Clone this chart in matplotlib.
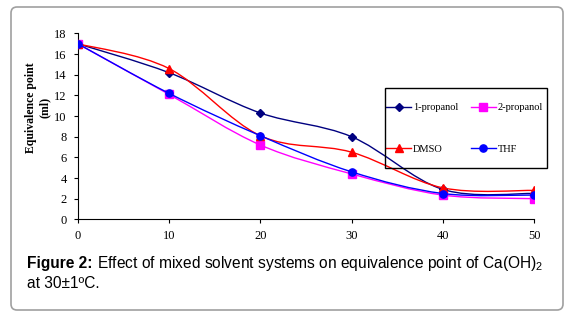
import numpy as np
import matplotlib
matplotlib.use('Agg')
import matplotlib.pyplot as plt
from matplotlib.path import Path
from matplotlib.patches import PathPatch, Rectangle, FancyBboxPatch
from matplotlib.lines import Line2D

# data
solvent_pct = [0, 10, 20, 30, 40, 50]
propanol_1 = [17.0, 14.2, 10.3, 8.0, 2.9, 2.5]
propanol_2 = [17.0, 12.1, 7.2, 4.4, 2.35, 2.0]
dmso = [17.0, 14.6, 8.1, 6.5, 3.05, 2.8]
thf = [17.0, 12.2, 8.1, 4.6, 2.5, 2.35]

series = [
    ('1-propanol', propanol_1, '#000080', 'D', 3.8),
    ('2-propanol', propanol_2, '#ff00ff', 's', 5.2),
    ('DMSO', dmso, '#ff0000', '^', 5.2),
    ('THF', thf, '#0000ff', 'o', 5.2),
]

plt.rcParams['font.family'] = 'Liberation Serif'
plt.rcParams['mathtext.default'] = 'regular'


def smooth_path(xs, ys):
    # Excel-style smoothed line: Catmull-Rom spline as cubic Bezier segments
    p = np.column_stack([xs, ys]).astype(float)
    ext = np.vstack([p[0], p, p[-1]])
    verts = [p[0]]
    codes = [Path.MOVETO]
    for i in range(len(p) - 1):
        p0, p1, p2, p3 = ext[i], ext[i + 1], ext[i + 2], ext[i + 3]
        verts += [p1 + (p2 - p0) / 6, p2 - (p3 - p1) / 6, p2]
        codes += [Path.CURVE4] * 3
    return Path(verts, codes)


fig = plt.figure(figsize=(5.73, 3.12), dpi=100)
ax = fig.add_axes([0.1356, 0.297, 0.932 - 0.1356, 0.893 - 0.297])

handles = []
for i, (name, vals, col, mk, ms) in enumerate(series):
    ax.add_patch(PathPatch(smooth_path(solvent_pct, vals), fill=False,
                           edgecolor=col, lw=1.0, zorder=2 + i))
    ax.plot(solvent_pct, vals, ls='none', marker=mk, ms=ms, color=col,
            zorder=2 + i)
    handles.append(Line2D([], [], color=col, lw=1.0, marker=mk, ms=ms))

ax.set_xlim(0, 50)
ax.set_ylim(0, 18)
ax.set_xticks(range(0, 51, 10))
ax.set_yticks(range(0, 19, 2))
ax.tick_params(labelsize=9, length=3, width=0.8, direction='out', pad=5)
for s in ['top', 'right']:
    ax.spines[s].set_visible(False)
for s in ['left', 'bottom']:
    ax.spines[s].set_linewidth(0.8)

fig.text(38 / 573, 0.655, 'Equivalence point\n(ml)', rotation=90,
         ha='center', va='center', multialignment='center',
         fontsize=8.5, fontweight='bold')

# legend box, filled row by row like the original
fig.patches.append(Rectangle((385 / 573, 1 - 168 / 312), 162 / 573, 80 / 312,
                             transform=fig.transFigure, fill=False,
                             edgecolor='black', lw=1.0, zorder=10))
order = [0, 2, 1, 3]
fig.legend([handles[k] for k in order], [series[k][0] for k in order],
           ncol=2, frameon=False,
           loc='upper left', bbox_to_anchor=(386 / 573, 1 - 103 / 312),
           fontsize=7.5, handlelength=2.4, handletextpad=0.2,
           columnspacing=1.2, labelspacing=3.1, borderpad=0,
           borderaxespad=0)

# caption: bold label, then the rest of line one placed after it
t1 = fig.text(27 / 573, 1 - 268 / 312, 'Figure 2:', family='Liberation Sans',
              fontsize=11.2, fontweight='bold', va='baseline', ha='left')
fig.canvas.draw()
bb = t1.get_window_extent()
fig.text(bb.x1 / fig.bbox.width, 1 - 268 / 312,
         ' Effect of mixed solvent systems on equivalence point of '
         'Ca(OH)$_2$', family='Liberation Sans', fontsize=11.2,
         va='baseline', ha='left')
fig.text(27 / 573, 1 - 288 / 312, 'at 30\u00b11\u00baC.',
         family='Liberation Sans', fontsize=11.2, va='baseline', ha='left')

# rounded outer frame
fig.patches.append(FancyBboxPatch((11, 2), 552, 303, transform=None,
                                  boxstyle='round,pad=0,rounding_size=6',
                                  fill=False, edgecolor='#a0a0a0', lw=1.2))

fig.savefig('out.png', dpi=100)
